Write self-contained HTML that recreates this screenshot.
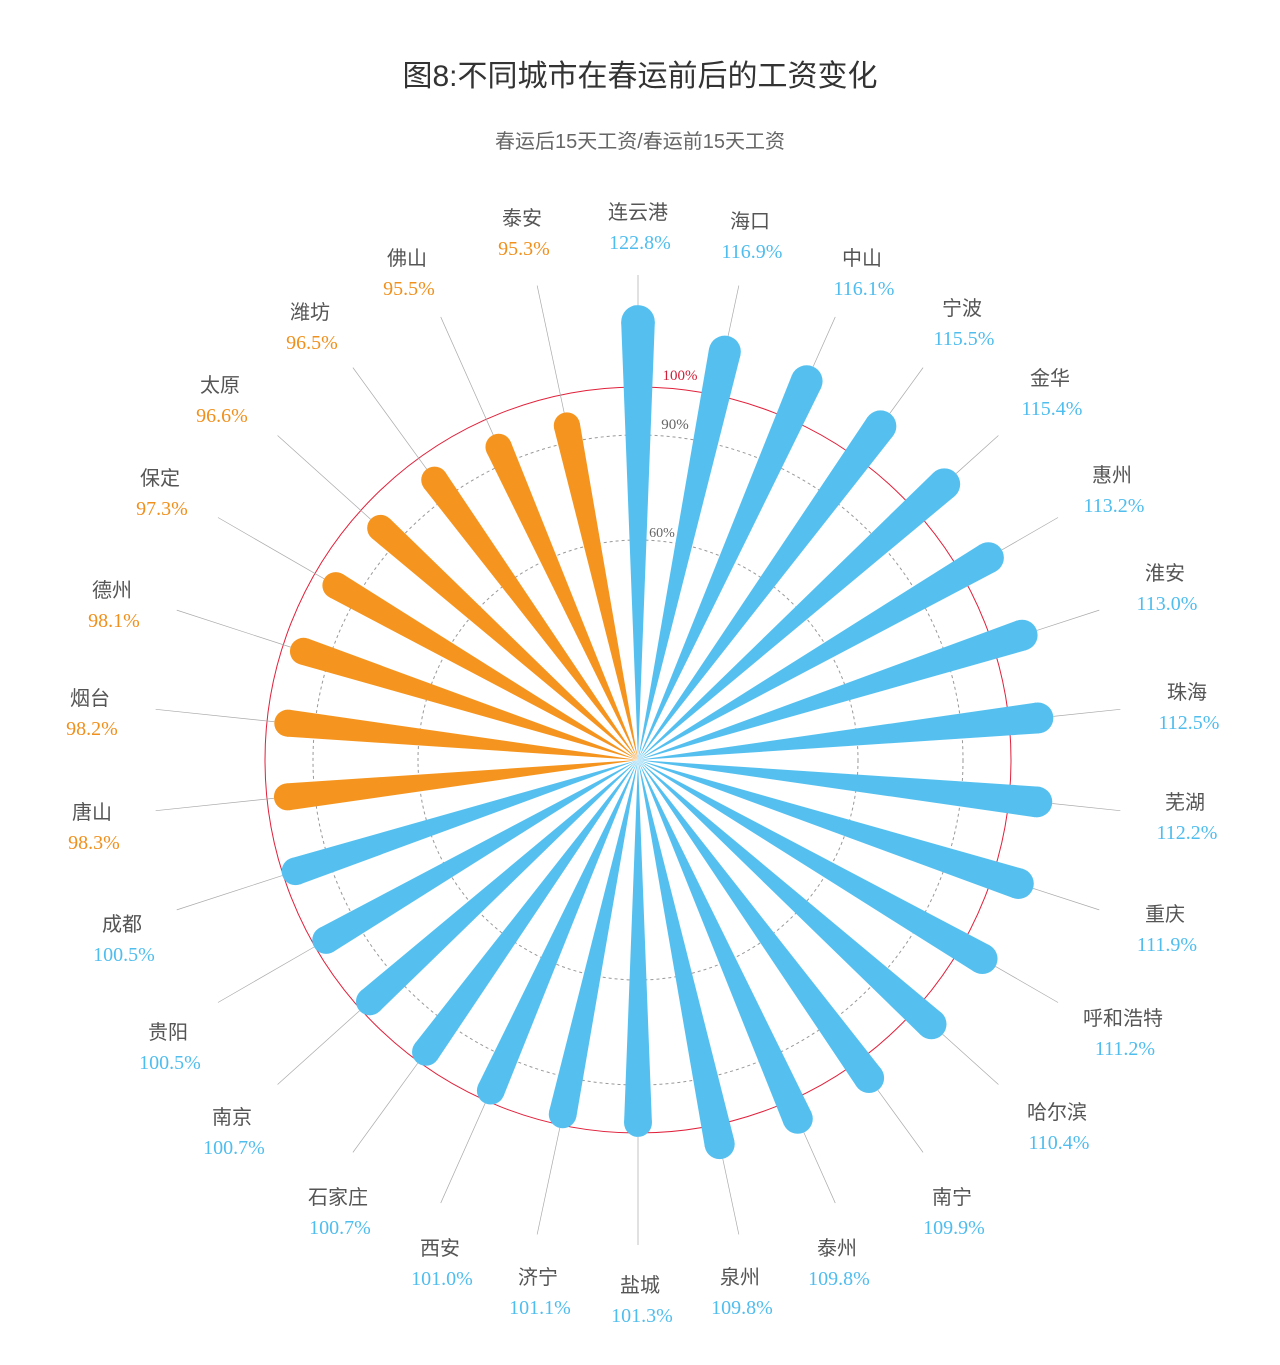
<!DOCTYPE html>
<html><head><meta charset="utf-8">
<style>
html,body{margin:0;padding:0;background:#fff;}
body{width:1280px;height:1360px;overflow:hidden;}
svg text{font-family:"Liberation Sans","Noto Sans CJK SC",sans-serif;}
</style></head>
<body>
<svg id="c" width="1280" height="1360" viewBox="0 0 1280 1360" xmlns="http://www.w3.org/2000/svg">
<text x="640" y="86" text-anchor="middle" font-size="30" fill="#333">图8:不同城市在春运前后的工资变化</text>
<text x="640" y="148" text-anchor="middle" font-size="20" fill="#666">春运后15天工资/春运前15天工资</text>
<circle cx="638" cy="760" r="220" fill="none" stroke="#999" stroke-width="1" stroke-dasharray="3,3"/>
<circle cx="638" cy="760" r="325" fill="none" stroke="#999" stroke-width="1" stroke-dasharray="3,3"/>
<circle cx="638" cy="760" r="373" fill="none" stroke="#e0203a" stroke-width="1"/>
<g id="g"></g>
<text x="680" y="380" text-anchor="middle" font-size="15" fill="#d0203a" style="font-family:'Liberation Serif',serif">100%</text>
<text x="675" y="429" text-anchor="middle" font-size="15" fill="#666" style="font-family:'Liberation Serif',serif">90%</text>
<text x="662" y="537" text-anchor="middle" font-size="14" fill="#666" style="font-family:'Liberation Serif',serif">60%</text>
</svg>
<script>
var d=[["连云港",122.8,638,212],["海口",116.9,750,221],["中山",116.1,862,258],["宁波",115.5,962,308],["金华",115.4,1050,378],["惠州",113.2,1112,475],["淮安",113.0,1165,573],["珠海",112.5,1187,692],["芜湖",112.2,1185,802],["重庆",111.9,1165,914],["呼和浩特",111.2,1123,1018],["哈尔滨",110.4,1057,1112],["南宁",109.9,952,1197],["泰州",109.8,837,1248],["泉州",109.8,740,1277],["盐城",101.3,640,1285],["济宁",101.1,538,1277],["西安",101.0,440,1248],["石家庄",100.7,338,1197],["南京",100.7,232,1117],["贵阳",100.5,168,1032],["成都",100.5,122,924],["唐山",98.3,92,812],["烟台",98.2,90,698],["德州",98.1,112,590],["保定",97.3,160,478],["太原",96.6,220,385],["潍坊",96.5,310,312],["佛山",95.5,407,258],["泰安",95.3,522,218]];
var cx=638,cy=760,s="",hw=2.2*Math.PI/180;
function P(r,a){return [cx+r*Math.sin(a),cy-r*Math.cos(a)];}
d.forEach(function(e,i){
 var a=i*12*Math.PI/180,v=e[1];
 var col=v<100?"#f5951f":"#55c0ef";
 var ro=366+(v-98.3)*3.63;
 var cap=ro*Math.sin(hw)/(1+Math.sin(hw));
 var rc=ro-cap;
 var t=P(ro,a);
 if(ro<480){s+='<line x1="'+t[0]+'" y1="'+t[1]+'" x2="'+P(485,a)[0]+'" y2="'+P(485,a)[1]+'" stroke="#aaa" stroke-width="0.7"/>';}
 var p1=P(rc,a-hw),p2=P(rc,a+hw),pc=P(rc,a);
 s+='<path d="M'+cx+','+cy+' L'+p1[0]+','+p1[1]+' L'+p2[0]+','+p2[1]+' Z" fill="'+col+'"/>';
 s+='<circle cx="'+pc[0]+'" cy="'+pc[1]+'" r="'+(rc*Math.sin(hw))+'" fill="'+col+'"/>';
 var Lx=e[2], Ly=e[3];
 s+='<text x="'+Lx+'" y="'+(Ly+7)+'" text-anchor="middle" font-size="20" fill="#555">'+e[0]+'</text>';
 s+='<text x="'+(Lx+2)+'" y="'+(Ly+37)+'" text-anchor="middle" font-size="20" fill="'+(v<100?"#f0901c":"#4fbdee")+'" style="font-family:\'Liberation Serif\',serif">'+v.toFixed(1)+'%</text>';
});
document.getElementById("g").innerHTML=s;
</script>
</body></html>
